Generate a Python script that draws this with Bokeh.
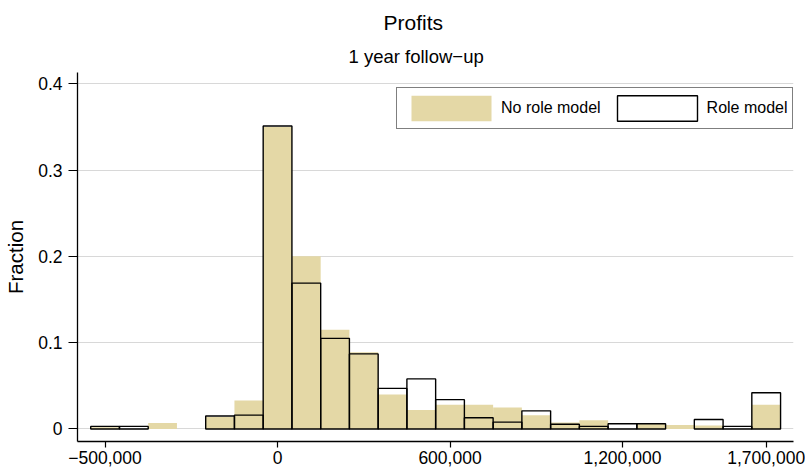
from bokeh.plotting import figure
from bokeh.models import (ColumnDataSource, FixedTicker, Title, Legend, LegendItem,
                          Range1d)
from bokeh.embed import file_html
from bokeh.resources import INLINE

# ---- data (fraction of firms per profit bin, bin width 100,000) ----
bin_centers = [-600000, -500000, -400000, -300000, -200000, -100000, 0, 100000,
               200000, 300000, 400000, 500000, 600000, 700000, 800000, 900000,
               1000000, 1100000, 1200000, 1300000, 1400000, 1500000, 1600000, 1700000]
no_role_model = [0.002, 0.0, 0.007, 0.0, 0.014, 0.033, 0.350, 0.200,
                 0.115, 0.089, 0.040, 0.022, 0.028, 0.028, 0.025, 0.016,
                 0.0075, 0.010, 0.0, 0.006, 0.0045, 0.004, 0.0, 0.028]
role_model = [0.003, 0.003, 0.0, 0.0, 0.015, 0.016, 0.351, 0.169,
              0.105, 0.087, 0.047, 0.058, 0.034, 0.013, 0.008, 0.021,
              0.0055, 0.003, 0.006, 0.006, 0.0, 0.011, 0.003, 0.042]
bin_width = 100000

x_ticks = [-600000, 0, 600000, 1200000, 1700000]
x_tick_labels = ["\u2212500,000", "0", "600,000", "1,200,000", "1,700,000"]
y_ticks = [0, 0.1, 0.2, 0.3, 0.4]
y_tick_labels = ["0", "0.1", "0.2", "0.3", "0.4"]

SAND = "#E4D8A6"
FONT = "Liberation Sans"


def nonzero(xs, ys):
    pairs = [(a, b) for a, b in zip(xs, ys) if b > 0]
    return ColumnDataSource(dict(x=[a for a, _ in pairs], top=[b for _, b in pairs]))


p = figure(width=805, height=471, output_backend="svg", toolbar_location=None,
           x_range=Range1d(-696000, 1795000), y_range=Range1d(-0.0145, 0.413),
           min_border_left=77, min_border_right=12, min_border_top=72,
           min_border_bottom=30)
p.outline_line_color = None
p.background_fill_color = "white"
p.border_fill_color = "white"

r_no = p.vbar(x="x", top="top", bottom=0, width=bin_width, source=nonzero(bin_centers, no_role_model),
              fill_color=SAND, line_color=None)
r_ro = p.vbar(x="x", top="top", bottom=0, width=bin_width, source=nonzero(bin_centers, role_model),
              fill_alpha=0, line_color="black", line_width=1.4)

# axes
p.xaxis.ticker = FixedTicker(ticks=x_ticks)
p.xaxis.major_label_overrides = {t: l for t, l in zip(x_ticks, x_tick_labels)}
p.yaxis.ticker = FixedTicker(ticks=y_ticks)
p.yaxis.major_label_overrides = {t: l for t, l in zip(y_ticks, y_tick_labels)}
for ax in (p.xaxis, p.yaxis):
    ax.axis_line_color = "black"
    ax.axis_line_width = 1.3
    ax.major_tick_line_color = "black"
    ax.major_tick_line_width = 1.2
    ax.minor_tick_line_color = None
    ax.major_tick_in = 0
    ax.major_label_text_font = FONT
    ax.major_label_text_font_size = "17.5px"
    ax.major_label_text_color = "black"
p.xaxis.major_tick_out = 6
p.yaxis.major_tick_out = 9
p.xaxis.major_label_standoff = 3
p.yaxis.major_label_standoff = 6
p.yaxis.axis_label = "Fraction"
p.yaxis.axis_label_text_font = FONT
p.yaxis.axis_label_text_font_size = "20.5px"
p.yaxis.axis_label_text_font_style = "normal"
p.yaxis.axis_label_text_color = "black"
p.yaxis.axis_label_standoff = 8

p.xgrid.grid_line_color = None
p.ygrid.ticker = FixedTicker(ticks=y_ticks)
p.ygrid.grid_line_color = "#D8D8D8"
p.ygrid.grid_line_width = 1.2

# titles
p.add_layout(Title(text="1 year follow\u2212up", align="left", text_font=FONT,
                   text_font_size="18.5px", text_font_style="normal", text_color="black",
                   offset=271, standoff=11), "above")
p.add_layout(Title(text="Profits", align="left", text_font=FONT,
                   text_font_size="21px", text_font_style="normal", text_color="black",
                   offset=306, standoff=10), "above")

legend = Legend(items=[LegendItem(label="No role model", renderers=[r_no]),
                       LegendItem(label="Role model", renderers=[r_ro])],
                orientation="horizontal", location=(319, 312),
                glyph_width=100, glyph_height=32, label_standoff=0, spacing=6,
                padding=4, margin=0, label_text_font=FONT, label_text_font_size="16px",
                label_text_color="black",
                label_height=32, border_line_color="black", border_line_width=1.2,
                background_fill_color="white", background_fill_alpha=1)
p.add_layout(legend, "center")

open("out.html", "w").write(file_html(p, INLINE))
